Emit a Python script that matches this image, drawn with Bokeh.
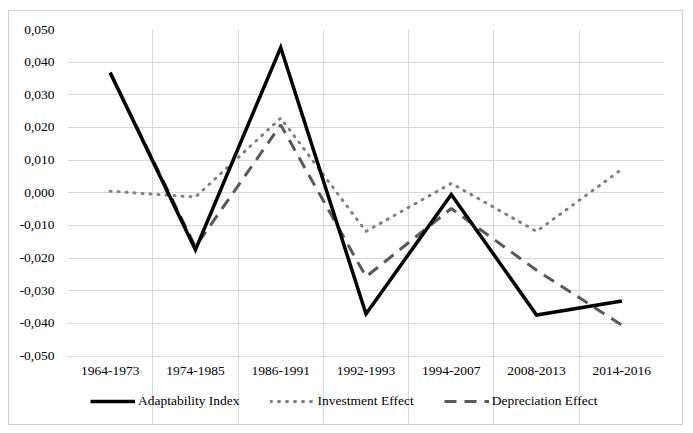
from bokeh.plotting import figure
from bokeh.models import FixedTicker, CustomJSTickFormatter, Legend, LegendItem, Range1d
from bokeh.core.properties import value
from bokeh.embed import file_html
from bokeh.resources import INLINE

categories = ["1964-1973", "1974-1985", "1986-1991", "1992-1993", "1994-2007", "2008-2013", "2014-2016"]
adaptability = [0.0368, -0.0174, 0.0445, -0.0371, -0.0005, -0.0374, -0.0331]
investment = [0.0005, -0.0013, 0.0229, -0.0118, 0.0029, -0.0118, 0.0072]
depreciation = [0.0368, -0.0165, 0.0208, -0.0257, -0.0048, -0.0237, -0.0405]
y_ticks = [-0.05, -0.04, -0.03, -0.02, -0.01, 0.0, 0.01, 0.02, 0.03, 0.04, 0.05]

n = len(categories)
xs = [i + 0.5 for i in range(n)]

FONT = "Liberation Serif"

# frame extends below the value area to hold category labels and legend
span = y_ticks[-1] - y_ticks[0]
y_start = y_ticks[0] - span * 70 / 325

p = figure(width=675, height=415, output_backend="svg", toolbar_location=None,
           x_range=Range1d(0, n), y_range=Range1d(y_start, y_ticks[-1]),
           min_border_left=58, min_border_right=20, min_border_top=18, min_border_bottom=0)
p.styles = {"border": "1px solid #d0d0d0", "margin-left": "8px", "margin-top": "10px"}
p.outline_line_color = None
p.background_fill_color = "white"
p.border_fill_color = "white"

p.xaxis.visible = False
ax = p.yaxis[0]
ax.ticker = FixedTicker(ticks=y_ticks)
ax.formatter = CustomJSTickFormatter(code="""
var t = Math.abs(tick) < 1e-9 ? 0 : tick;
return t.toFixed(3).replace('.', ',');
""")
ax.axis_line_color = None
ax.major_tick_line_color = None
ax.minor_tick_line_color = None
ax.major_tick_out = 0
ax.major_tick_in = 0
ax.major_label_text_font = FONT
ax.major_label_text_font_size = "13.5px"
ax.major_label_text_color = "#000000"
ax.major_label_standoff = 13

# grids
p.xgrid.ticker = FixedTicker(ticks=list(range(n + 1)))
p.xgrid.bounds = (y_ticks[0], y_ticks[-1])
p.ygrid.ticker = FixedTicker(ticks=y_ticks)
for g in (p.xgrid[0], p.ygrid[0]):
    g.grid_line_color = "#d9d9d9"
    g.grid_line_width = 1

# category labels
p.text(x=xs, y=[y_ticks[0]] * n, text=categories, text_align="center", text_baseline="middle",
       y_offset=15, text_font=value(FONT), text_font_size="13.5px", text_color="#000000")

r1 = p.line(xs, adaptability, line_color="black", line_width=3.5, line_join="miter")
r2 = p.line(xs, investment, line_color="#808080", line_width=3, line_dash="1 7", line_cap="round")
r3 = p.line(xs, depreciation, line_color="#595959", line_width=3, line_dash="12 8")
p.renderers = p.renderers[:1] + [r2, r3, r1]

legend = Legend(items=[LegendItem(label="Adaptability Index", renderers=[r1]),
                       LegendItem(label="Investment Effect", renderers=[r2]),
                       LegendItem(label="Depreciation Effect", renderers=[r3])],
                orientation="horizontal", location=(23, 17),
                label_text_font=FONT, label_text_font_size="13.5px",
                label_text_color="#000000", label_standoff=3,
                glyph_width=45, glyph_height=16, spacing=30,
                padding=4, margin=0,
                border_line_color=None, background_fill_alpha=0)
p.add_layout(legend)

open("out.html", "w").write(file_html(p, INLINE))
